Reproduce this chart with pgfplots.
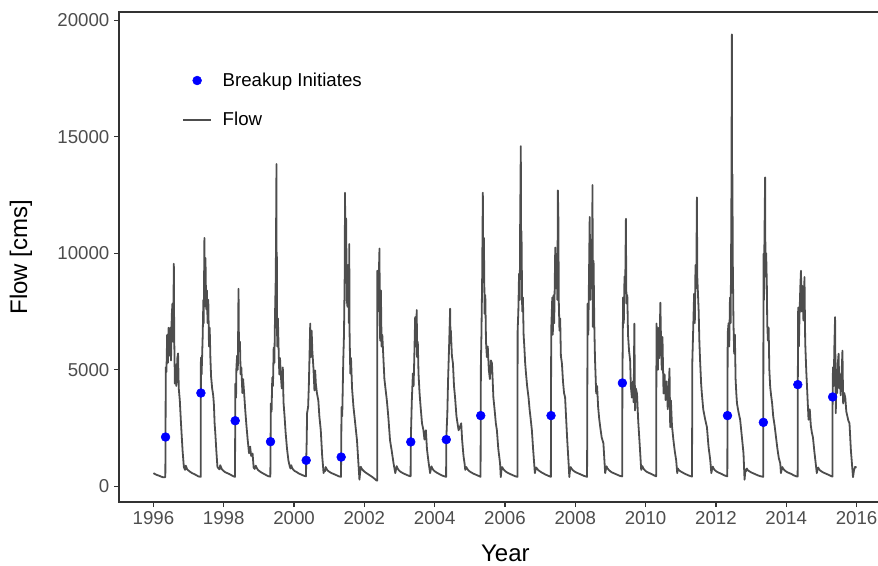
\documentclass[border=0pt]{standalone}
\usepackage{fontspec}
\setmainfont{Liberation Sans}
\usepackage{pgfplots}
\pgfplotsset{compat=1.18}
\definecolor{gray30}{RGB}{77,77,77}
\definecolor{gray20}{RGB}{51,51,51}

\begin{document}
\begin{tikzpicture}
% page = 878 x 565 px at 0.75pt per px, panel SW corner at (0,0)
\useasboundingbox (-89.25pt,-47.25pt) rectangle (569.25pt,376.5pt);
\begin{axis}[
  at={(0,0)}, anchor=south west,
  scale only axis,
  width=579.5pt, height=367.5pt,
  xmin=1995.02, xmax=2017, ymin=-680, ymax=20360,
  xtick={1996,1998,...,2016},
  ytick={0,5000,10000,15000,20000},
  xtick pos=bottom, ytick pos=left,
  tick align=outside, major tick length=3.75pt,
  axis line style={gray20, line width=0.9pt},
  tick style={gray20, line width=0.9pt},
  scaled y ticks=false,
  /pgf/number format/1000 sep={},
  /pgf/number format/assume math mode=true,
  ticklabel style={font=\fontsize{14}{14}\selectfont, text=gray30},
  xlabel={Year}, ylabel={Flow [cms]},
  label style={font=\fontsize{18}{18}\selectfont},
  xlabel style={at={(axis description cs:0.5,-0.104)}, anchor=center},
  ylabel style={at={(axis description cs:-0.1268,0.5)}, anchor=center},
  legend style={draw=none, fill=none, at={(rel axis cs:0.0815,0.882)}, anchor=north west,
    font=\fontsize{14}{14}\selectfont, row sep=14pt, inner sep=0pt,
    /tikz/every odd column/.append style={column sep=6pt}},
  legend cell align=left,
  legend image code/.code={\draw[mark repeat=2,mark phase=2,#1] plot coordinates {(0pt,0pt)(10.5pt,0pt)(21pt,0pt)};},
]
% daily flow, thinned by hand
\addplot[gray30, line width=1.35pt, line join=round, forget plot] coordinates {
(1996.00,560) (1996.04,520) (1996.10,480) (1996.16,450) (1996.22,410) (1996.28,380) (1996.338,390)
(1996.344,2100) (1996.35,5100) (1996.37,4900) (1996.39,6500) (1996.41,5300) (1996.43,6800) (1996.45,5600)
(1996.48,6800) (1996.50,5400) (1996.52,7300) (1996.54,7840) (1996.56,6200) (1996.58,9550) (1996.59,6500)
(1996.61,4400) (1996.63,5200) (1996.65,4300) (1996.68,5500) (1996.70,5700) (1996.72,4200) (1996.75,3680)
(1996.78,2800) (1996.80,2270) (1996.83,1500) (1996.865,830)
(1996.88,760) (1996.90,700) (1996.92,880) (1996.94,800) (1996.96,720) (1996.99,680) (1997.04,620)
(1997.10,560) (1997.16,520) (1997.22,470) (1997.28,420) (1997.345,400)
(1997.35,5520) (1997.37,4800) (1997.40,6400) (1997.42,8000) (1997.43,7000) (1997.45,10660) (1997.46,8000)
(1997.48,9800) (1997.50,7600) (1997.52,8400) (1997.54,7000) (1997.56,8000) (1997.58,6000) (1997.60,6800)
(1997.62,5500) (1997.64,4700) (1997.67,4200) (1997.70,3900) (1997.72,3500) (1997.74,2700) (1997.76,2270)
(1997.79,1500) (1997.82,830)
(1997.85,760) (1997.88,720) (1997.90,900) (1997.92,820) (1997.95,720) (1997.99,660) (1998.04,600)
(1998.10,560) (1998.16,520) (1998.22,470) (1998.28,420) (1998.32,400)
(1998.33,4400) (1998.35,3800) (1998.36,5100) (1998.38,5600) (1998.40,5000) (1998.42,8480) (1998.43,6500)
(1998.44,5820) (1998.46,6200) (1998.48,4800) (1998.50,5100) (1998.53,4000) (1998.55,4600) (1998.58,3980)
(1998.61,3300) (1998.64,2700) (1998.68,2000) (1998.72,1410) (1998.75,1700) (1998.78,1300) (1998.82,1400)
(1998.85,800)
(1998.88,740) (1998.91,880) (1998.94,780) (1998.97,700) (1999.02,640) (1999.08,580) (1999.14,530)
(1999.20,480) (1999.26,430) (1999.325,410)
(1999.34,3550) (1999.36,3200) (1999.38,4670) (1999.40,4300) (1999.42,5950) (1999.44,5300) (1999.46,7500)
(1999.48,9000) (1999.50,13830) (1999.505,8000) (1999.51,10000) (1999.52,6000) (1999.54,7200) (1999.56,5950)
(1999.58,4800) (1999.60,5500) (1999.62,4840) (1999.65,4200) (1999.68,5100) (1999.70,3600) (1999.73,3000)
(1999.76,2300) (1999.80,1600) (1999.84,1100) (1999.88,830)
(1999.90,760) (1999.92,900) (1999.94,800) (1999.97,720) (2000.02,650) (2000.08,600) (2000.14,540)
(2000.20,500) (2000.26,460) (2000.34,420)
(2000.345,1070) (2000.36,1970) (2000.37,3130) (2000.40,3400) (2000.42,4300) (2000.44,5600) (2000.46,6980)
(2000.47,6000) (2000.48,5540) (2000.50,6680) (2000.52,5800) (2000.55,5100) (2000.58,4110) (2000.60,4970)
(2000.62,4400) (2000.65,4000) (2000.69,3680) (2000.72,3000) (2000.76,2400) (2000.80,1300) (2000.84,560)
(2000.86,700) (2000.88,640) (2000.90,820) (2000.92,760) (2000.95,680) (2000.99,630) (2001.04,580)
(2001.10,540) (2001.16,500) (2001.22,460) (2001.28,420) (2001.335,400)
(2001.34,1240) (2001.35,3400) (2001.37,3000) (2001.40,5400) (2001.42,6500) (2001.44,9000) (2001.45,12600)
(2001.46,9500) (2001.48,11500) (2001.50,8000) (2001.52,7700) (2001.54,9500) (2001.56,7000) (2001.57,10400)
(2001.58,6500) (2001.60,4840) (2001.62,5500) (2001.65,4200) (2001.69,3400) (2001.72,2980) (2001.76,2400)
(2001.79,1970) (2001.83,1000) (2001.86,280)
(2001.88,600) (2001.90,830) (2001.92,760) (2001.95,700) (2001.99,640) (2002.04,580) (2002.10,520)
(2002.16,460) (2002.22,400) (2002.28,330) (2002.34,250) (2002.365,240)
(2002.37,9250) (2002.39,7500) (2002.41,9000) (2002.43,10200) (2002.44,7000) (2002.45,6250) (2002.47,8400)
(2002.49,6000) (2002.51,6500) (2002.54,5540) (2002.57,4600) (2002.60,4200) (2002.64,3680) (2002.68,3000)
(2002.73,1970) (2002.78,1500) (2002.83,980) (2002.88,560)
(2002.90,720) (2002.92,860) (2002.94,780) (2002.97,700) (2003.01,640) (2003.06,590) (2003.12,540)
(2003.18,500) (2003.24,460) (2003.315,420)
(2003.32,1900) (2003.35,3680) (2003.38,4840) (2003.40,4300) (2003.42,5500) (2003.445,7260) (2003.46,6000)
(2003.49,7560) (2003.50,5540) (2003.52,6200) (2003.54,4840) (2003.57,4000) (2003.60,3400) (2003.64,2700)
(2003.68,2400) (2003.71,2000) (2003.73,2270) (2003.75,2400) (2003.78,1600) (2003.82,1100) (2003.87,560)
(2003.89,720) (2003.91,850) (2003.93,770) (2003.96,700) (2004.00,640) (2004.06,580) (2004.12,530)
(2004.18,480) (2004.24,440) (2004.325,400)
(2004.33,2000) (2004.36,3130) (2004.38,4500) (2004.41,6000) (2004.44,7620) (2004.45,6300) (2004.46,6680)
(2004.49,5600) (2004.52,5270) (2004.55,4300) (2004.58,3810) (2004.62,3000) (2004.66,2600) (2004.68,2400)
(2004.72,2550) (2004.755,2700) (2004.78,2000) (2004.82,1300) (2004.85,980) (2004.87,700)
(2004.90,820) (2004.92,760) (2004.95,700) (2004.99,640) (2005.04,590) (2005.10,540) (2005.16,500)
(2005.22,460) (2005.28,420) (2005.305,400)
(2005.315,5270) (2005.33,6500) (2005.35,8830) (2005.37,12600) (2005.38,9000) (2005.40,10660) (2005.42,7400)
(2005.44,8200) (2005.46,6200) (2005.485,5540) (2005.51,6000) (2005.54,5000) (2005.57,4600) (2005.60,5400)
(2005.63,5270) (2005.67,3810) (2005.71,3200) (2005.74,2700) (2005.77,2400) (2005.81,1600) (2005.86,980)
(2005.88,390)
(2005.90,700) (2005.92,820) (2005.94,760) (2005.97,700) (2006.01,640) (2006.06,590) (2006.12,540)
(2006.18,500) (2006.24,460) (2006.30,420) (2006.355,400)
(2006.36,6680) (2006.38,7500) (2006.40,9120) (2006.42,8000) (2006.43,11000) (2006.45,14600) (2006.46,9500)
(2006.47,10950) (2006.49,7500) (2006.51,8100) (2006.53,6500) (2006.55,6000) (2006.575,5270) (2006.60,4800)
(2006.63,4300) (2006.67,3810) (2006.70,3300) (2006.73,2900) (2006.765,2400) (2006.80,1600) (2006.83,980)
(2006.85,560)
(2006.87,700) (2006.89,800) (2006.91,760) (2006.94,700) (2006.98,650) (2007.03,600) (2007.09,550)
(2007.15,500) (2007.21,460) (2007.27,420) (2007.305,400)
(2007.315,6680) (2007.345,8100) (2007.36,6500) (2007.38,8200) (2007.40,7000) (2007.43,10250) (2007.45,8500)
(2007.47,9800) (2007.49,8000) (2007.505,12700) (2007.52,11400) (2007.53,8000) (2007.55,6680) (2007.57,7200)
(2007.59,5600) (2007.62,5270) (2007.65,4500) (2007.68,4000) (2007.71,3810) (2007.74,2900) (2007.77,2000)
(2007.81,980) (2007.83,390)
(2007.85,700) (2007.87,820) (2007.89,760) (2007.92,700) (2007.96,650) (2008.01,600) (2008.07,560)
(2008.13,520) (2008.19,480) (2008.25,440) (2008.335,400)
(2008.35,7840) (2008.37,6500) (2008.39,9000) (2008.41,11560) (2008.43,8000) (2008.45,10500) (2008.47,8500)
(2008.49,12930) (2008.50,6840) (2008.52,9680) (2008.54,7000) (2008.56,5500) (2008.595,3980) (2008.62,4300)
(2008.65,3400) (2008.68,2900) (2008.71,2530) (2008.75,2100) (2008.80,1840) (2008.85,560)
(2008.87,720) (2008.89,850) (2008.91,780) (2008.94,720) (2008.98,660) (2009.03,600) (2009.09,560)
(2009.15,520) (2009.21,480) (2009.27,440) (2009.335,420)
(2009.34,4430) (2009.36,8100) (2009.38,7000) (2009.40,9000) (2009.42,8500) (2009.44,11480) (2009.45,8500)
(2009.46,7840) (2009.48,8200) (2009.50,6500) (2009.53,5800) (2009.56,5400) (2009.58,4300) (2009.61,3800)
(2009.64,4500) (2009.66,3600) (2009.68,6980) (2009.70,3250) (2009.72,4200) (2009.755,3980) (2009.79,2800)
(2009.83,1840) (2009.875,700)
(2009.89,760) (2009.91,860) (2009.93,780) (2009.96,710) (2010.00,650) (2010.05,600) (2010.11,560)
(2010.17,520) (2010.23,470) (2010.30,420)
(2010.31,6980) (2010.33,6250) (2010.35,5000) (2010.37,6800) (2010.39,5500) (2010.42,7880) (2010.44,6120)
(2010.46,5000) (2010.48,6400) (2010.51,3980) (2010.54,4800) (2010.57,3700) (2010.60,4500) (2010.63,3300)
(2010.66,4200) (2010.68,5050) (2010.70,2530) (2010.72,3680) (2010.75,2600) (2010.79,2000) (2010.83,1500)
(2010.87,1110) (2010.90,560)
(2010.92,760) (2010.94,700) (2010.97,660) (2011.01,620) (2011.06,580) (2011.12,530) (2011.18,490)
(2011.24,450) (2011.32,410)
(2011.33,5400) (2011.35,6500) (2011.38,8260) (2011.40,7000) (2011.42,9500) (2011.44,8500) (2011.46,12400)
(2011.47,9000) (2011.49,8260) (2011.51,7500) (2011.53,6200) (2011.55,5400) (2011.58,4400) (2011.60,3980)
(2011.64,3300) (2011.69,2900) (2011.745,2530) (2011.79,1700) (2011.84,1110) (2011.87,560)
(2011.89,720) (2011.91,840) (2011.93,770) (2011.96,700) (2012.00,650) (2012.05,600) (2012.11,560)
(2012.17,520) (2012.23,470) (2012.325,420)
(2012.335,6550) (2012.36,7000) (2012.38,6000) (2012.40,8100) (2012.42,7000) (2012.44,12000) (2012.455,19400)
(2012.46,13000) (2012.47,13400) (2012.48,9680) (2012.50,7000) (2012.52,5690) (2012.54,6500) (2012.56,4600)
(2012.58,4000) (2012.60,3550) (2012.64,3200) (2012.69,2850) (2012.74,2100) (2012.785,1410) (2012.815,280)
(2012.84,700)
(2012.86,640) (2012.88,760) (2012.90,700) (2012.93,660) (2012.97,620) (2013.02,580) (2013.08,540)
(2013.14,500) (2013.20,460) (2013.26,430) (2013.345,400)
(2013.355,9980) (2013.37,8000) (2013.38,10500) (2013.40,13260) (2013.41,9000) (2013.43,10000) (2013.45,8550)
(2013.46,7000) (2013.48,6250) (2013.50,6800) (2013.52,5000) (2013.545,4250) (2013.57,3900) (2013.60,3550)
(2013.63,3000) (2013.67,2600) (2013.71,2100) (2013.75,1600) (2013.79,1200) (2013.83,980) (2013.85,560)
(2013.87,700) (2013.89,820) (2013.91,760) (2013.94,700) (2013.98,650) (2014.03,600) (2014.09,560)
(2014.15,520) (2014.21,470) (2014.27,430) (2014.325,410)
(2014.33,4360) (2014.34,7670) (2014.36,6000) (2014.38,7400) (2014.40,8500) (2014.42,9250) (2014.44,7500)
(2014.46,8600) (2014.49,7110) (2014.52,8980) (2014.54,6200) (2014.57,4970) (2014.60,4000) (2014.635,2850)
(2014.67,3300) (2014.70,2600) (2014.73,2300) (2014.76,2100) (2014.80,1500) (2014.85,830) (2014.87,560)
(2014.89,720) (2014.91,800) (2014.93,740) (2014.96,680) (2015.00,640) (2015.05,590) (2015.11,550)
(2015.17,510) (2015.23,470) (2015.28,430) (2015.315,410)
(2015.32,3830) (2015.33,5100) (2015.35,4300) (2015.37,6000) (2015.39,7260) (2015.41,3130) (2015.43,5000)
(2015.45,4000) (2015.47,5300) (2015.49,5690) (2015.51,4200) (2015.53,4800) (2015.55,3900) (2015.57,4600)
(2015.60,5820) (2015.62,3550) (2015.65,4000) (2015.68,3810) (2015.71,3200) (2015.74,3000) (2015.77,2800)
(2015.80,2700) (2015.84,1540) (2015.90,390) (2015.93,700) (2015.96,830) (2016.00,800)
};
% breakup dates
\addplot[only marks, mark=*, mark size=3.3pt, blue, mark options={fill=blue, draw=blue}] coordinates {
(1996.344,2110) (1997.35,4000) (1998.325,2810) (1999.33,1910) (2000.345,1110) (2001.34,1250)
(2003.32,1900) (2004.33,2000) (2005.31,3030) (2007.31,3030) (2009.34,4430) (2012.33,3030)
(2013.35,2740) (2014.33,4360) (2015.32,3830)
};
\addlegendentry{Breakup Initiates}
\addlegendimage{gray30, line width=1.35pt}
\addlegendentry{Flow}
\end{axis}
\end{tikzpicture}
\end{document}
